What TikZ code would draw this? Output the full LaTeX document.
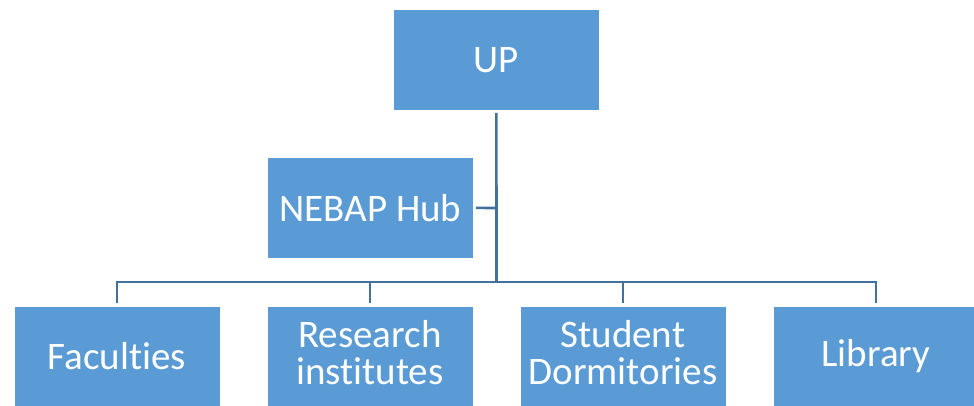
\documentclass[tikz,border=0pt]{standalone}
\usepackage{fontspec}
\setmainfont[Ligatures=NoCommon]{Carlito}
\definecolor{boxfill}{RGB}{91,155,213}
\definecolor{linecol}{RGB}{65,113,156}
\begin{document}
\begin{tikzpicture}[x=1pt,y=-1pt,
  orgbox/.style={fill=boxfill,draw=white,line width=0.8pt,minimum width=206pt,minimum height=101pt,
    text=white,font=\fontsize{39}{37.5}\selectfont,align=center,inner sep=0pt,anchor=north west},
  twoline/.style={text depth=4pt},
  conn/.style={draw=linecol,line width=2.6pt}]
\useasboundingbox (0,0) rectangle (974,405);
\clip (0,0) rectangle (974,405);
\node[orgbox] (up) at (393,9) {UP};
\node[orgbox] (hub) at (267,157) {NEBAP Hub};
\node[orgbox] (fac) at (13.5,305.5) {Faculties};
\node[orgbox] (res) at (266.5,305.5) {Research\\institutes\rule[-8pt]{0pt}{0pt}};
\node[orgbox] (stu) at (519.5,305.5) {Student\\Dormitories\rule[-8pt]{0pt}{0pt}};
\node[orgbox] (lib) at (772.5,305.5) {Library};
\coordinate (j) at (496.5,282);
\coordinate (jh) at (496.5,208);
\draw[conn] (up.south) ++(0,2) -- (j);
\draw[conn] (hub.east) ++(2,0) -- (jh);
\draw[conn] (fac.north) ++(0,-3) |- (j);
\draw[conn] (res.north) ++(0,-3) -- ++(0,-21);
\draw[conn] (stu.north) ++(0,-3) -- ++(0,-21);
\draw[conn] (lib.north) ++(0,-3) |- (j);
\end{tikzpicture}
\end{document}
